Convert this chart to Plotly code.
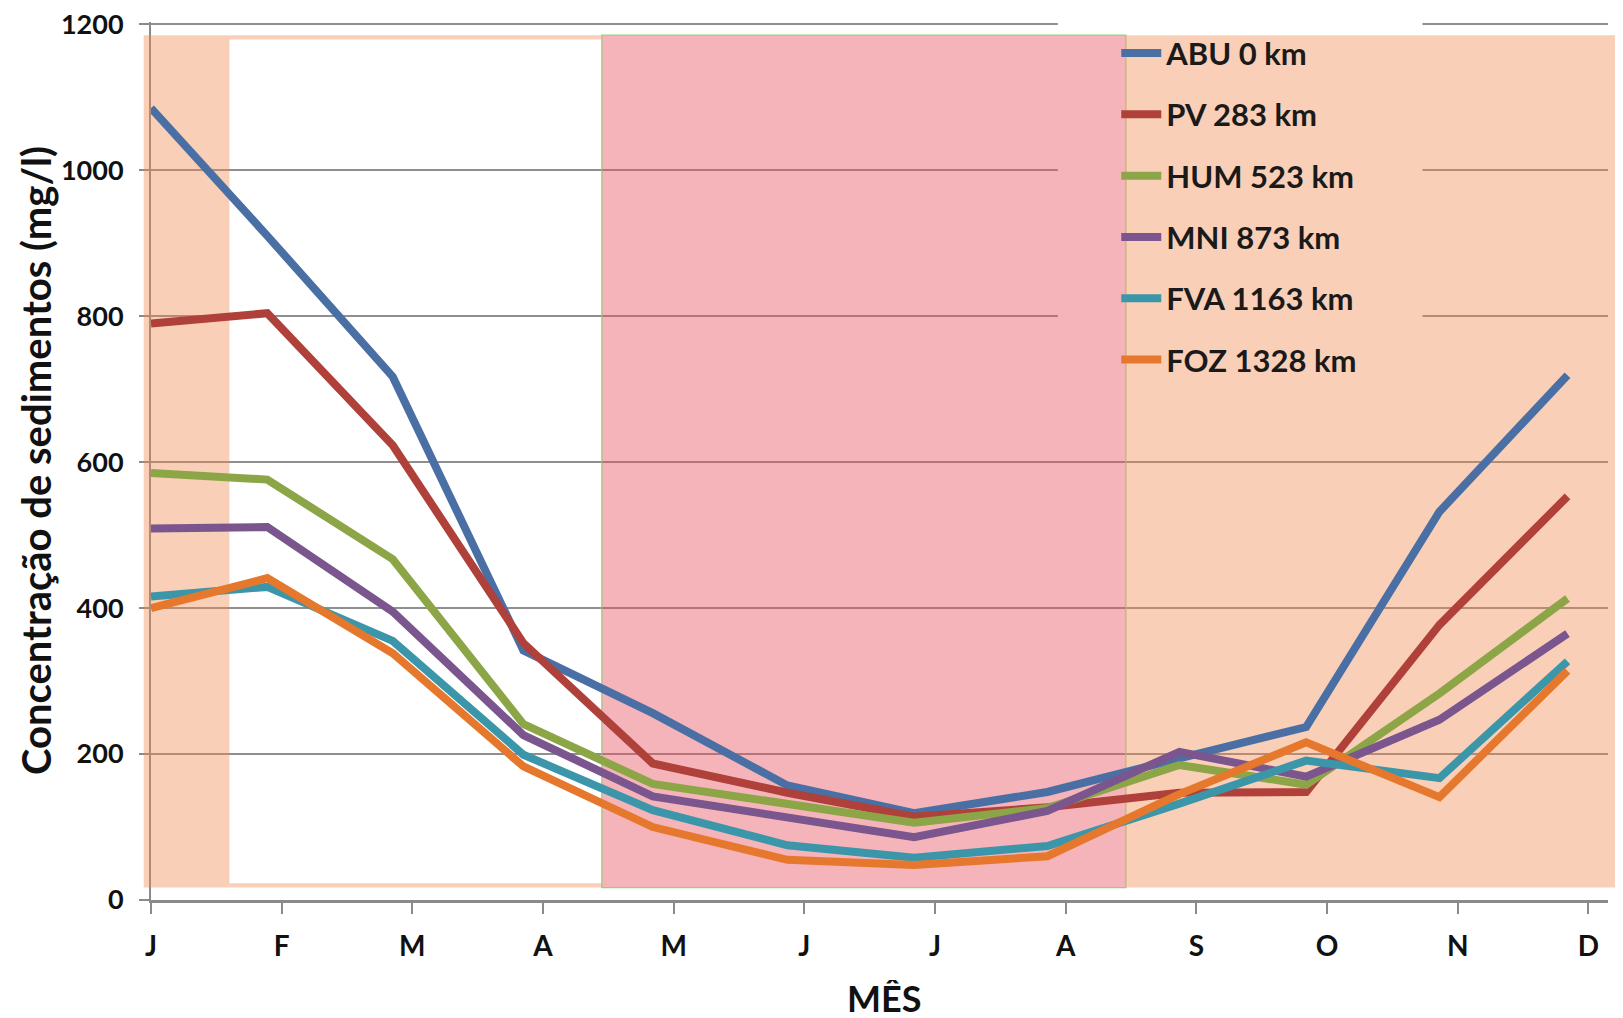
import plotly.graph_objects as go

# ---------------- data ----------------
month_labels = ["J", "F", "M", "A", "M", "J", "J", "A", "S", "O", "N", "D"]
month_ticks = list(range(12))
# horizontal position of each monthly sample, in month-tick units
x_month = [0.0, 0.89, 1.85, 2.85, 3.84, 4.87, 5.84, 6.86, 7.87, 8.84, 9.86, 10.84]

series_names = ["ABU 0 km", "PV 283 km", "HUM 523 km", "MNI 873 km", "FVA 1163 km", "FOZ 1328 km"]
abu = [1085, 910, 717, 342, 256, 157, 119, 148, 194, 237, 532, 719]
pv = [790, 804, 623, 352, 187, 147, 114, 127, 147, 148, 377, 553]
hum = [585, 576, 467, 241, 159, 132, 106, 126, 185, 158, 283, 413]
mni = [509, 511, 395, 226, 142, 114, 86, 122, 203, 169, 247, 365]
fva = [416, 429, 355, 199, 123, 75, 58, 74, 132, 191, 167, 327]
foz = [400, 441, 338, 183, 100, 55, 48, 60, 145, 216, 141, 314]
series_values = [abu, pv, hum, mni, fva, foz]

y_ticks = [0, 200, 400, 600, 800, 1000, 1200]
y_title = "Concentração de sedimentos (mg/l)"
x_title = "MÊS"

# shaded periods (month-tick units) and vertical extent (mg/l)
orange_left = (0.0, 0.60)
white_gap = (0.60, 3.45)
red_period = (3.45, 7.46)
orange_right = (7.46, 11.15)
shade_bottom, shade_top = 17, 1185
strip = 6

# ---------------- style ----------------
colors = ["#4A6FA5", "#B0403A", "#8CA546", "#7A558E", "#3C96AA", "#E6782D"]
FONT = "Lato"
orange_fill = "rgba(240,135,75,0.40)"
red_fill = "rgba(232,80,95,0.43)"
x_range = [0, 11.15]
y_range = [0, 1203]

fig = go.Figure()
for name, vals, col in zip(series_names, series_values, colors):
    fig.add_trace(go.Scatter(
        x=x_month, y=vals, name=name, mode="lines",
        line=dict(color=col, width=8), legendgroup=name,
    ))

shapes = []
# white backing behind legend (hides gridlines there)
shapes.append(dict(type="rect", xref="x", yref="y", layer="between",
                   x0=6.94, x1=9.73, y0=692, y1=y_range[1],
                   fillcolor="white", line=dict(width=0)))
# left orange period
shapes.append(dict(type="rect", xref="x", yref="y", layer="between",
                   x0=orange_left[0], x1=orange_left[1], y0=shade_bottom, y1=shade_top,
                   fillcolor=orange_fill, line=dict(width=0)))
shapes.append(dict(type="rect", xref="paper", yref="y",
                   x0=-0.005, x1=0, y0=shade_bottom, y1=shade_top,
                   fillcolor=orange_fill, line=dict(width=0)))
# thin orange strips around the white gap
shapes.append(dict(type="rect", xref="x", yref="y", layer="between",
                   x0=white_gap[0], x1=white_gap[1], y0=shade_top - strip, y1=shade_top,
                   fillcolor=orange_fill, line=dict(width=0)))
shapes.append(dict(type="rect", xref="x", yref="y", layer="between",
                   x0=white_gap[0], x1=white_gap[1], y0=shade_bottom, y1=shade_bottom + strip,
                   fillcolor=orange_fill, line=dict(width=0)))
# red period
shapes.append(dict(type="rect", xref="x", yref="y", layer="between",
                   x0=red_period[0], x1=red_period[1], y0=shade_bottom, y1=shade_top,
                   fillcolor=red_fill, line=dict(width=1.2, color="rgba(130,210,110,0.9)")))
# right orange period
shapes.append(dict(type="rect", xref="x", yref="y", layer="between",
                   x0=orange_right[0], x1=orange_right[1], y0=shade_bottom, y1=shade_top,
                   fillcolor=orange_fill, line=dict(width=0)))
shapes.append(dict(type="rect", xref="paper", yref="y",
                   x0=1.0, x1=1.011, y0=shade_bottom, y1=shade_top,
                   fillcolor=orange_fill, line=dict(width=0)))

fig.update_layout(
    width=1615, height=1010,
    margin=dict(l=143, r=15, t=14, b=118, autoexpand=False),
    paper_bgcolor="white", plot_bgcolor="rgba(0,0,0,0)",
    font=dict(family=FONT, color="#111111"),
    shapes=shapes,
    showlegend=True,
    legend=dict(
        x=0.6625, y=0.995, xanchor="left", yanchor="top",
        bgcolor="rgba(0,0,0,0)", borderwidth=0,
        font=dict(family=FONT, size=31, weight="bold", color="#1a1a1a"),
        tracegroupgap=18, itemwidth=40,
    ),
    annotations=[
        dict(text=y_title, textangle=-90, xref="paper", yref="paper",
             x=-0.0789, y=0.5, xanchor="center", yanchor="middle", showarrow=False,
             font=dict(family=FONT, size=40, weight="bold", color="#111")),
        dict(text=x_title, xref="paper", yref="paper",
             x=0.503, y=-0.1117, xanchor="center", yanchor="middle", showarrow=False,
             height=36, valign="middle",
             font=dict(family=FONT, size=36, weight="bold", color="#111")),
    ],
    xaxis=dict(
        range=x_range, tickmode="array", tickvals=month_ticks, ticktext=month_labels,
        showgrid=False, zeroline=False, automargin=False,
        showline=True, linecolor="#8a8a8a", linewidth=3,
        ticks="outside", ticklen=11, tickwidth=1.5, tickcolor="#8a8a8a",
        tickfont=dict(family=FONT, size=28, weight="bold", color="#111"),
        ticklabelstandoff=8, ticklabeloverflow="allow",
    ),
    yaxis=dict(
        range=y_range, tickmode="array", tickvals=y_ticks,
        showgrid=True, gridcolor="#8f8f8f", gridwidth=1.5, zeroline=False, automargin=False,
        showline=True, linecolor="#8a8a8a", linewidth=2,
        ticks="outside", ticklen=10, tickwidth=1.5, tickcolor="#8a8a8a",
        tickfont=dict(family=FONT, size=27, weight="bold", color="#111"),
        ticklabelstandoff=10, ticklabeloverflow="allow",
    ),
)

fig.write_html("out.html")
